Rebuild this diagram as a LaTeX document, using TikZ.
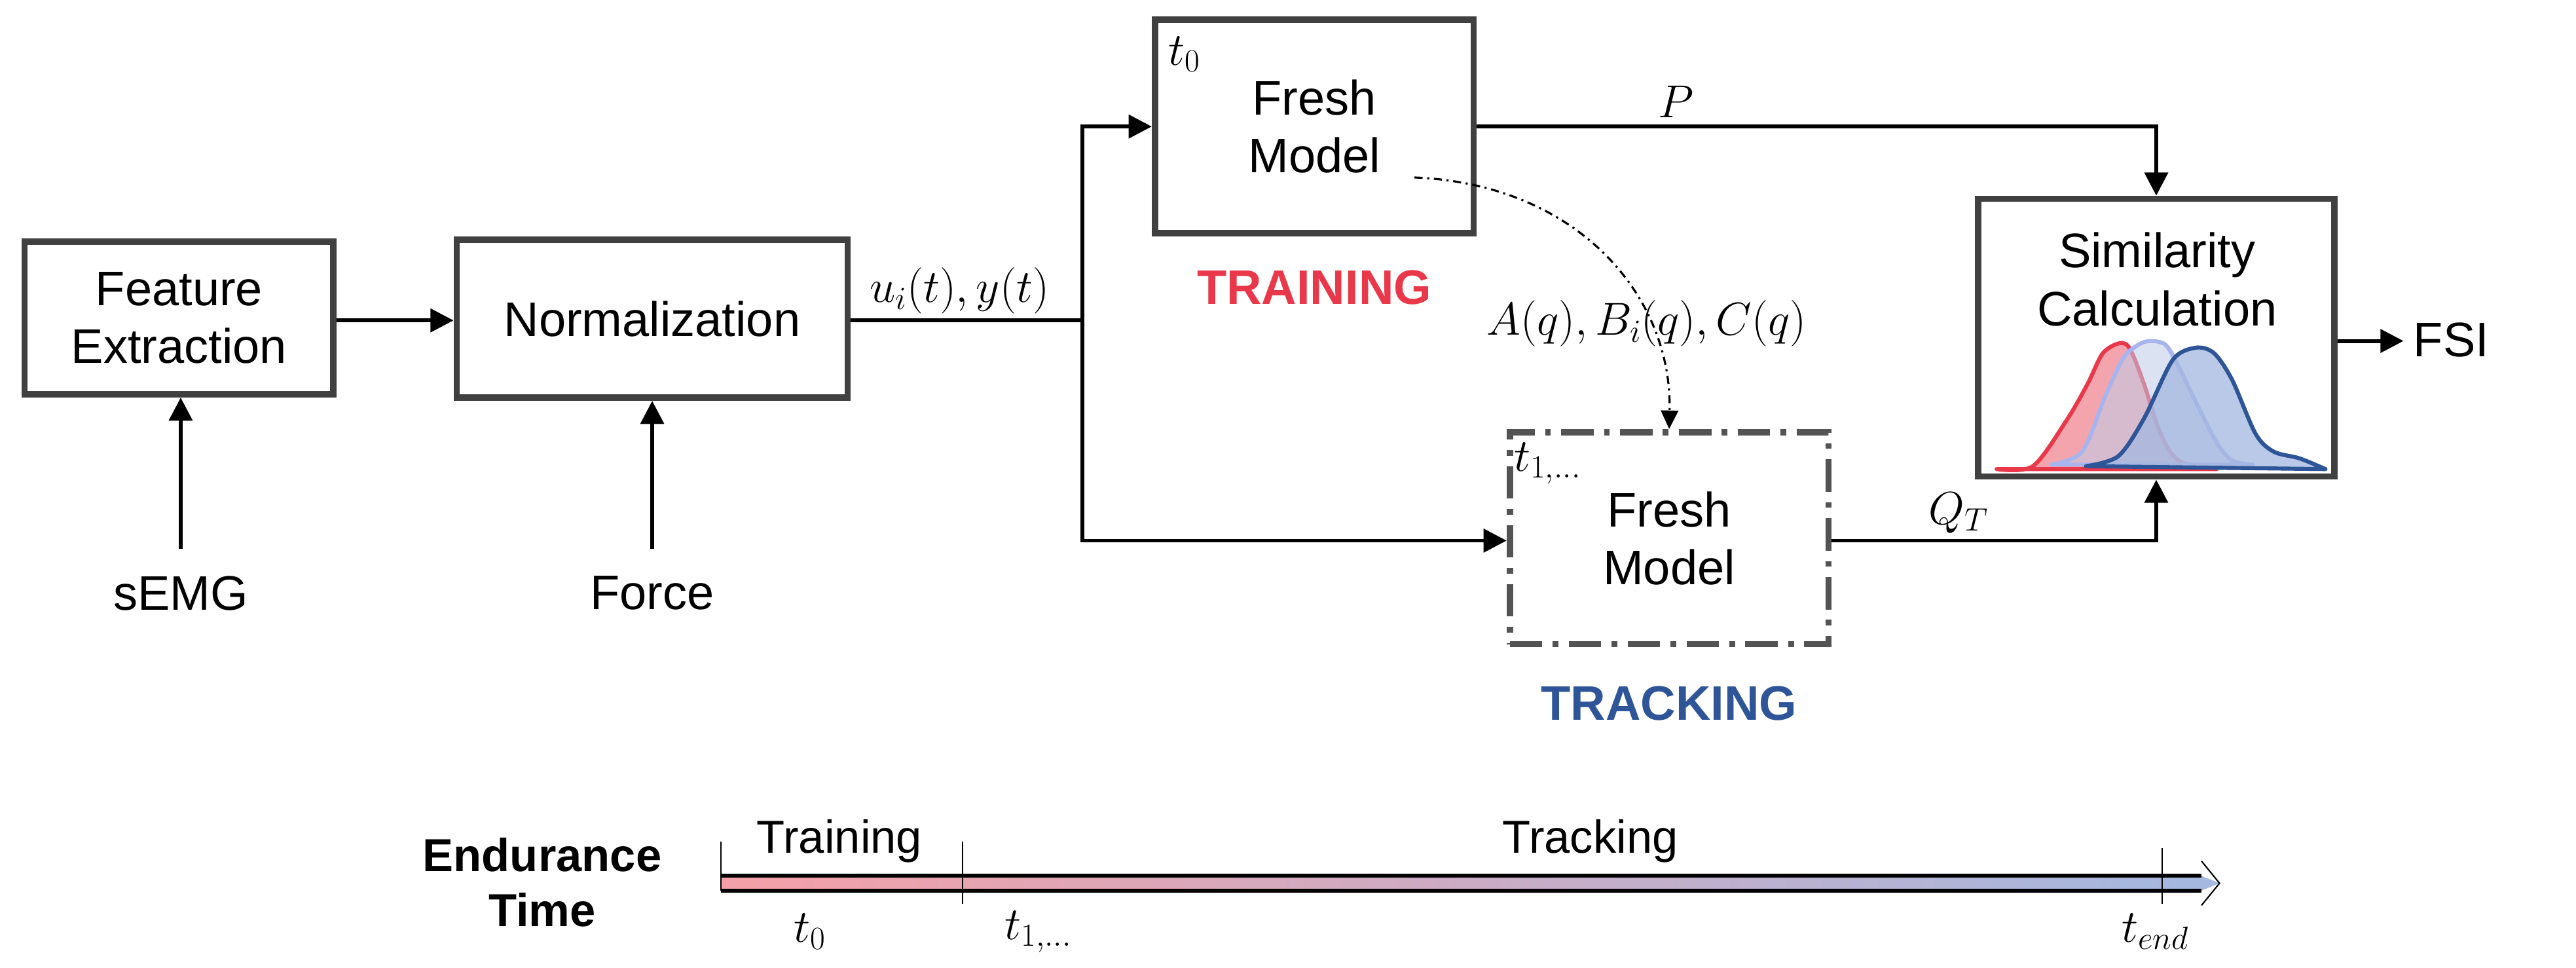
\RequirePackage{fix-cm}
\documentclass[tikz,border=0pt]{standalone}
\usepackage{fontspec}
\setmainfont{Liberation Sans}
\usetikzlibrary{arrows.meta}
\definecolor{boxgray}{HTML}{404040}
\definecolor{trainred}{HTML}{E8384A}
\definecolor{trackblue}{HTML}{2E5597}
\definecolor{lred}{HTML}{F4A0A8}
\definecolor{lblue}{HTML}{A4B8E0}
\definecolor{mblue}{HTML}{C8D4EC}
\begin{document}
\begin{tikzpicture}[x=0.05cm,y=-0.05cm,
  box/.style={draw=boxgray,line width=5.5pt,fill=white,inner sep=0pt,align=center,font=\fontsize{42}{50}\selectfont},
  txt/.style={font=\fontsize{42}{50}\selectfont,inner sep=0pt,align=center},
  lab/.style={font=\fontsize{40}{46}\selectfont,inner sep=0pt},
  arr/.style={line width=3.3pt,-{Triangle[length=20pt,width=20pt]}},
  con/.style={line width=3.3pt}]
\useasboundingbox (0,0) rectangle (1568,589);
% boxes
\node[box,minimum width=188*0.05cm,minimum height=93*0.05cm] (fe) at (109,193.5) {Feature\\Extraction};
\node[box,minimum width=238*0.05cm,minimum height=96*0.05cm] (norm) at (397,194) {Normalization};
\node[box,minimum width=194*0.05cm,minimum height=130*0.05cm] (fresh) at (800,77) {Fresh\\Model};
\node[box,draw=boxgray!90,dash pattern=on 28pt off 9pt on 5pt off 9pt,minimum width=194*0.05cm,minimum height=129*0.05cm] (track) at (1016,327.5) {Fresh\\Model};
\node[box,minimum width=217*0.05cm,minimum height=169*0.05cm] (sim) at (1312.5,205.5) {};
\node[txt] (simt) at (1313,170) {Similarity\\Calculation};
\node[lab] (t0b) at (721,33) {$t_0$};
\node[lab] (t1b) at (942,282) {$t_{1,\ldots}$};
% inputs
\node[txt] (semg) at (110,361) {sEMG};
\node[txt] (force) at (397,361) {Force};
\node[txt] (fsi) at (1492,207) {FSI};
\node[txt,font=\fontsize{42}{50}\selectfont\bfseries,text=trainred] (trn) at (800,175) {TRAINING};
\node[txt,font=\fontsize{42}{50}\selectfont\bfseries,text=trackblue] (trk) at (1016,428) {TRACKING};
\coordinate (semgt) at (110,334);
\coordinate (forcet) at (397,334);
\coordinate (j) at (659,195);
\coordinate (fsia) at (1463,207.5);
\draw[arr] (semgt) -- (fe.south -| semgt);
\draw[arr] (forcet) -- (norm.south);
\draw[arr] (fe.east |- j) -- (norm.west |- j);
\draw[con] (norm.east |- j) -- (j);
\draw[arr] (j) |- (fresh.west);
\draw[arr] (j) |- (track.west |- 0,329);
\draw[arr] (fresh.east) -| (sim.north);
\draw[arr] (track.east |- 0,329) -| (sim.south);
\draw[arr] (sim.east |- fsia) -- (fsia);
\node[lab] (ul) at (584,177) {$u_i(t),y(t)$};
\node[lab] (pl) at (1020,62) {$P$};
\node[lab] (ql) at (1192,312) {$Q_T$};
\node[lab,anchor=west] (al) at (905,197) {$A(q),B_i(q),C(q)$};
\coordinate (cs) at (861,108);
\draw[line width=1.8pt,dash pattern=on 7pt off 4pt on 1.8pt off 4pt,-{Triangle[length=16pt,width=15pt]}] (cs) .. controls (960,112) and (1018,180) .. (track.north);
% distributions
\begin{scope}[shift={(1191.7,111.6)},x=0.05cm/6.345,y=-0.05cm/7.35,line join=round,line cap=round]
\filldraw[draw=trainred,fill=lred,fill opacity=0.95,line width=3.5pt]
 plot[smooth] coordinates {(150,1278) (290,1265) (420,1060) (500,900) (560,760) (625,715) (665,740) (720,900) (770,1080) (820,1200) (880,1255) (1000,1265)} -- (1000,1278) -- cycle;
\filldraw[draw=lblue!80!blue!70,fill=lblue!70,fill opacity=0.55,line width=3.5pt]
 plot[smooth] coordinates {(360,1258) (480,1200) (570,950) (640,780) (700,720) (745,705) (800,720) (840,790) (920,980) (1000,1160) (1060,1240) (1140,1258)} -- cycle;
\filldraw[draw=trackblue,fill=lblue,fill opacity=0.75,line width=3.5pt]
 plot[smooth] coordinates {(495,1265) (620,1220) (720,1050) (830,790) (920,735) (990,760) (1060,880) (1150,1120) (1220,1200) (1320,1230) (1420,1278)} -- cycle;
\end{scope}
% timeline
\node[txt,font=\fontsize{40}{48}\selectfont\bfseries] (et) at (330,537) {Endurance\\Time};
\shade[left color=lred,middle color=mblue,right color=lblue] (439,533) rectangle (1340,542);
\fill[lblue] (1340,533) -- (1351,537.5) -- (1340,542) -- cycle;
\draw[line width=3.5pt] (439,533) -- (1340,533) (439,542) -- (1340,542);
\draw[line width=1.2pt] (1340,524) -- (1351,537.5) -- (1340,551);
\draw[line width=1.2pt] (439,512) -- (439,542) (586,512) -- (586,550) (1316,516) -- (1316,550);
\node[txt,font=\fontsize{40}{46}\selectfont] (trl) at (511,512) {Training};
\node[txt,font=\fontsize{40}{46}\selectfont] (tkl) at (968,512) {Tracking};
\node[lab] (t0) at (493,567) {$t_0$};
\node[lab] (t1) at (632,567) {$t_{1,\ldots}$};
\node[lab] (te) at (1312,567) {$t_{end}$};
\end{tikzpicture}
\end{document}
